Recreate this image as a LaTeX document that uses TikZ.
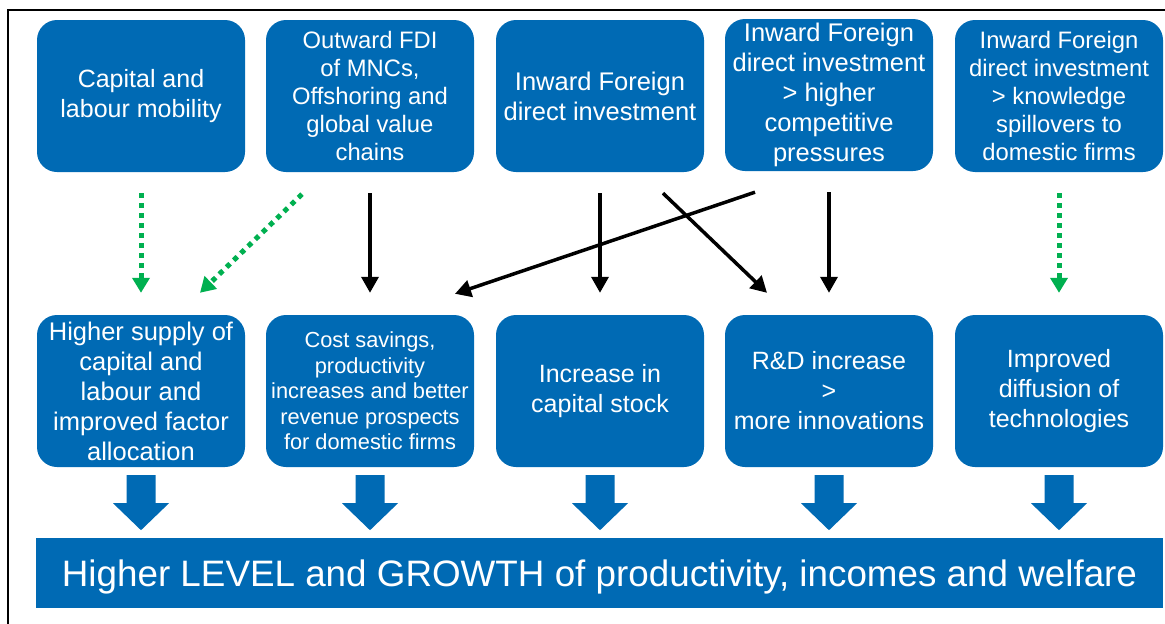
\documentclass[tikz,border=0pt]{standalone}
\usepackage{fontspec}
\setmainfont{Liberation Sans}
\usetikzlibrary{arrows.meta}
\definecolor{oecdblue}{RGB}{0,106,180}
\definecolor{dotgreen}{RGB}{0,176,80}
\begin{document}
\begin{tikzpicture}[
       x=1pt, y=-1pt,
       box_style/.style={fill=oecdblue, text=white, rounded corners=20pt, minimum width=208pt, minimum height=152pt, inner sep=0pt, align=center, font=\fontsize{25}{30}\selectfont}, % blue rounded boxes
       mid_text/.style={font=\fontsize{23.8}{28}\selectfont},
       small_text/.style={font=\fontsize{21.8}{25.5}\selectfont},
       link_style/.style={draw, black, line width=3.5pt, -{Triangle[width=17pt,length=16pt]}}, % strong effect
       weak_style/.style={draw, dotgreen, line width=5pt, dash pattern=on 5pt off 5pt, -{Triangle[width=17pt,length=15pt]}}, % weaker effect
       gap_style/.style={shorten <=21pt, shorten >=22pt}
   ]
   \useasboundingbox (0,0) rectangle (1165,624);

   % frame (left and top edges only)
   \draw[line width=2pt] (8,624) -- (8,10) -- (1165,10);

   % 1. channels (top row)
   \node[box_style] (cap_mob) at (141,96) {Capital and\\labour mobility};
   \node[box_style, mid_text] (out_fdi) at (370,96) {Outward FDI\\of MNCs,\\Offshoring and\\global value\\chains};
   \node[box_style, font=\fontsize{25.5}{30}\selectfont] (in_fdi) at (600,96) {Inward Foreign\\direct investment};
   \node[box_style, font=\fontsize{25.5}{30}\selectfont] (fdi_comp) at (829,95) {Inward Foreign\\direct investment\\> higher\\competitive\\pressures};
   \node[box_style, mid_text] (fdi_spill) at (1059,96) {Inward Foreign\\direct investment\\> knowledge\\spillovers to\\domestic firms};

   % 2. effects (middle row)
   \node[box_style, font=\fontsize{25.5}{30}\selectfont] (factor_alloc) at (141,391) {Higher supply of\\capital and\\labour and\\improved factor\\allocation};
   \node[box_style, small_text] (cost_sav) at (370,391) {Cost savings,\\productivity\\increases and better\\revenue prospects\\for domestic firms};
   \node[box_style] (cap_stock) at (600,391) {Increase in\\capital stock};
   \node[box_style] (rd_innov) at (829,391) {R\&D increase\\>\\more innovations};
   \node[box_style] (tech_diff) at (1059,391) {Improved\\diffusion of\\technologies};

   % 3. outcome bar
   \node[fill=oecdblue, text=white, minimum width=1127pt, minimum height=70pt, inner sep=0pt, font=\fontsize{36.8}{40}\selectfont] (prod_growth) at (599.5,573) {\raisebox{-13pt}[0pt][0pt]{Higher LEVEL and GROWTH of productivity, incomes and welfare}};

   % 4. links between rows
   \draw[weak_style, gap_style] (cap_mob) -- (factor_alloc);
   \draw[weak_style] ([xshift=-68pt, yshift=-22pt]out_fdi.south) -- ([xshift=59pt, yshift=22pt]factor_alloc.north);
   \draw[link_style, gap_style] (out_fdi) -- (cost_sav);
   \draw[link_style, gap_style] (in_fdi) -- (cap_stock);
   \draw[link_style] ([xshift=63pt, yshift=-21pt]in_fdi.south) -- ([xshift=-62pt, yshift=22pt]rd_innov.north);
   \draw[link_style] ([xshift=-74pt, yshift=-21pt]fdi_comp.south) -- ([xshift=85pt, yshift=21pt]cost_sav.north);
   \draw[link_style, gap_style] (fdi_comp.south) -- (rd_innov.north);
   \draw[weak_style, gap_style] (fdi_spill) -- (tech_diff);

   % 5. block arrows into the outcome bar
   \foreach \b in {factor_alloc, cost_sav, cap_stock, rd_innov, tech_diff}
      \fill[oecdblue] (\b.south) ++(-14.5,8) -- ++(29,0) -- ++(0,28) -- ++(13.5,0) -- ++(-28,27) -- ++(-28,-27) -- ++(13.5,0) -- cycle;

   \end{tikzpicture}
\end{document}
